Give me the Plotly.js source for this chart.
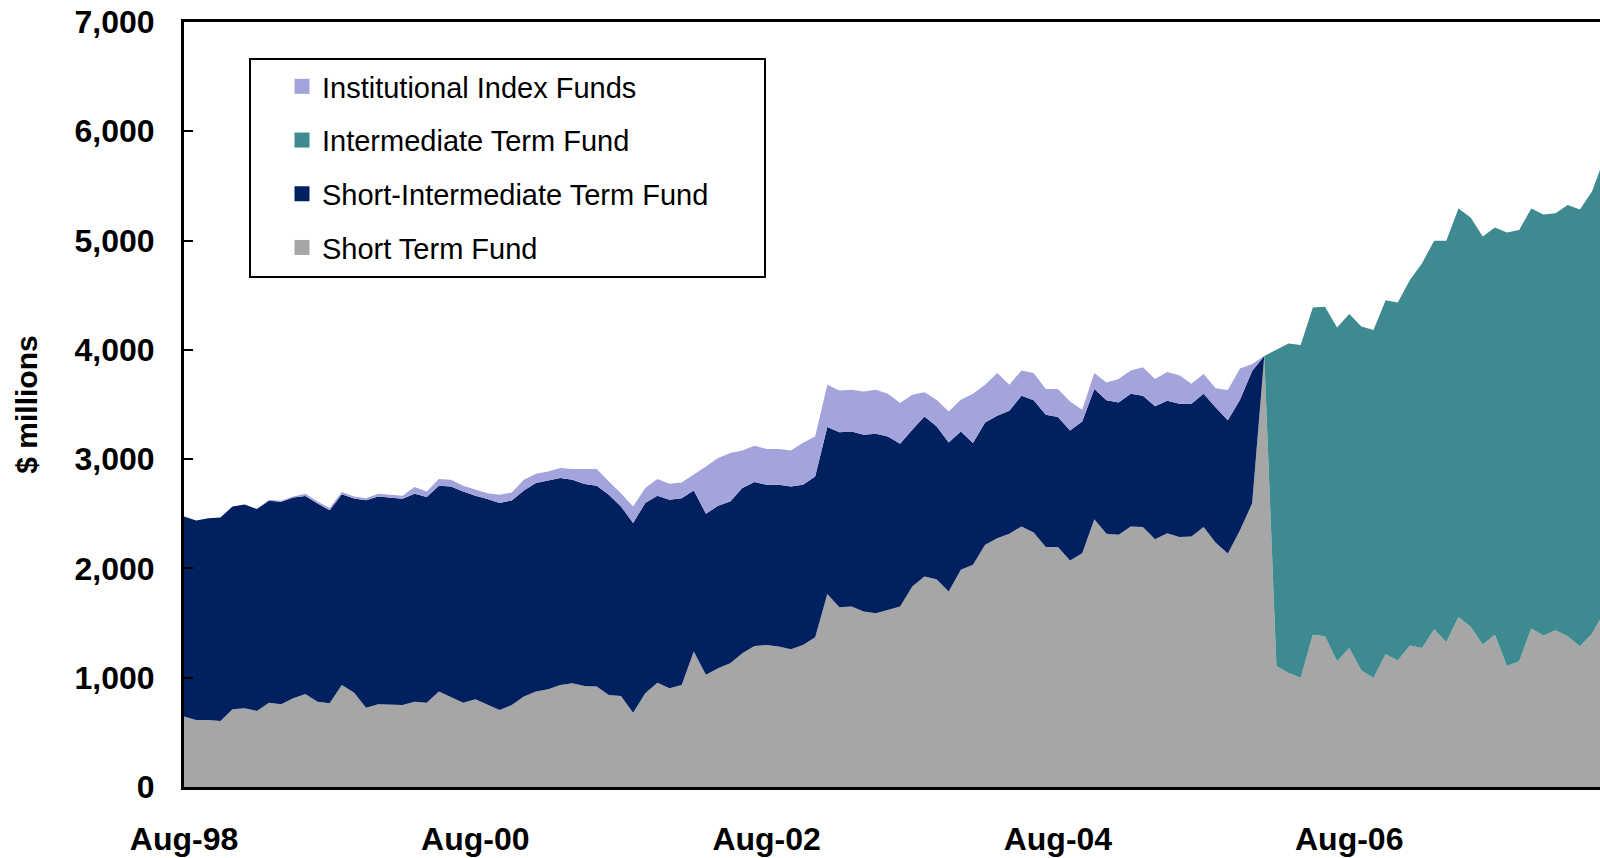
<!DOCTYPE html>
<html>
<head>
<meta charset="utf-8">
<script src="https://cdn.plot.ly/plotly-3.0.1.min.js"></script>
<style>
  html, body { margin: 0; padding: 0; background: #ffffff; }
  #chart { width: 1600px; height: 858px; }
</style>
</head>
<body>
<div id="chart"></div>
<script>
// Monthly categories, Aug-98 .. May-08
const months = [
  "Aug-98","Sep-98","Oct-98","Nov-98","Dec-98",
  "Jan-99","Feb-99","Mar-99","Apr-99","May-99","Jun-99","Jul-99","Aug-99","Sep-99","Oct-99","Nov-99","Dec-99",
  "Jan-00","Feb-00","Mar-00","Apr-00","May-00","Jun-00","Jul-00","Aug-00","Sep-00","Oct-00","Nov-00","Dec-00",
  "Jan-01","Feb-01","Mar-01","Apr-01","May-01","Jun-01","Jul-01","Aug-01","Sep-01","Oct-01","Nov-01","Dec-01",
  "Jan-02","Feb-02","Mar-02","Apr-02","May-02","Jun-02","Jul-02","Aug-02","Sep-02","Oct-02","Nov-02","Dec-02",
  "Jan-03","Feb-03","Mar-03","Apr-03","May-03","Jun-03","Jul-03","Aug-03","Sep-03","Oct-03","Nov-03","Dec-03",
  "Jan-04","Feb-04","Mar-04","Apr-04","May-04","Jun-04","Jul-04","Aug-04","Sep-04","Oct-04","Nov-04","Dec-04",
  "Jan-05","Feb-05","Mar-05","Apr-05","May-05","Jun-05","Jul-05","Aug-05","Sep-05","Oct-05","Nov-05","Dec-05",
  "Jan-06","Feb-06","Mar-06","Apr-06","May-06","Jun-06","Jul-06","Aug-06","Sep-06","Oct-06","Nov-06","Dec-06",
  "Jan-07","Feb-07","Mar-07","Apr-07","May-07","Jun-07","Jul-07","Aug-07","Sep-07","Oct-07","Nov-07","Dec-07",
  "Jan-08","Feb-08","Mar-08","Apr-08","May-08"
];

const tickLabels = ["Aug-98","Aug-00","Aug-02","Aug-04","Aug-06"];

// $ millions
const shortTerm = [
  644,613,613,604,711,720,696,772,757,812,
  852,781,766,934,864,726,757,757,751,781,
  772,873,821,772,803,751,705,751,827,873,
  895,934,950,925,919,842,833,680,858,955,
  904,934,1239,1026,1087,1133,1224,1291,1300,1285,
  1261,1300,1371,1767,1645,1651,1605,1590,1621,1651,
  1834,1926,1902,1789,1987,2033,2216,2277,2317,2384,
  2329,2195,2195,2072,2140,2451,2317,2308,2384,2378,
  2268,2323,2287,2292,2378,2235,2137,2350,2595,3943,
  1107,1042,999,1392,1379,1150,1271,1065,999,1215,
  1157,1294,1271,1444,1327,1556,1467,1304,1392,1107,
  1150,1451,1386,1434,1379,1288,1402,1600
];

const shortIntermediate = [
  1831,1826,1847,1862,1856,1865,1847,1848,1854,1838,
  1811,1812,1766,1745,1775,1897,1901,1888,1887,1902,
  1881,1883,1929,1932,1862,1884,1893,1871,1887,1908,
  1907,1893,1861,1847,1837,1832,1734,1735,1740,1710,
  1724,1709,1475,1474,1486,1480,1511,1499,1466,1481,
  1489,1465,1471,1527,1600,1603,1618,1643,1587,1490,
  1435,1465,1398,1364,1267,1114,1120,1120,1126,1197,
  1209,1212,1190,1191,1205,1191,1221,1211,1215,1203,
  1215,1212,1220,1215,1221,1237,1220,1194,1211,0,
  0,0,0,0,0,0,0,0,0,0,
  0,0,0,0,0,0,0,0,0,0,
  0,0,0,0,0,0,0,0
];

const intermediate = [
  0,0,0,0,0,0,0,0,0,0,
  0,0,0,0,0,0,0,0,0,0,
  0,0,0,0,0,0,0,0,0,0,
  0,0,0,0,0,0,0,0,0,0,
  0,0,0,0,0,0,0,0,0,0,
  0,0,0,0,0,0,0,0,0,0,
  0,0,0,0,0,0,0,0,0,0,
  0,0,0,0,0,0,0,0,0,0,
  0,0,0,0,0,0,0,0,0,0,
  2895,3016,3045,2995,3015,3054,3058,3149,3182,3238,
  3276,3345,3522,3555,3672,3738,3744,3734,3728,3967,
  3947,3843,3852,3817,3947,3996,4046,4150
];

const indexFunds = [
  0,0,0,0,0,0,0,8,8,8,
  20,20,20,20,20,20,25,26,27,61,
  51,62,61,52,55,54,76,73,97,85,
  86,91,98,140,153,122,122,152,137,153,
  147,144,143,433,437,443,345,333,326,326,
  330,385,366,387,384,381,397,402,391,373,
  321,220,244,284,290,452,345,391,238,231,
  250,235,257,265,107,146,164,214,213,259,
  250,262,260,184,180,176,275,285,65,0,
  0,0,0,0,0,0,0,0,0,0,
  0,0,0,0,0,0,0,0,0,0,
  0,0,0,0,0,0,0,0
];

const seriesNames = ["Short Term Fund","Short-Intermediate Term Fund","Intermediate Term Fund","Institutional Index Funds"];
const seriesColors = ["#A6A6A6","#00205F","#3D8B90","#A4A4DC"];
const seriesValues = [shortTerm, shortIntermediate, intermediate, indexFunds];

const FONT = "Liberation Sans, Arial, Helvetica, sans-serif";

const traces = [];
seriesValues.forEach((vals, i) => {
  traces.push({
    type: "scatter",
    mode: "lines",
    x: months,
    y: vals,
    name: seriesNames[i],
    stackgroup: "funds",
    line: { width: 0, color: seriesColors[i] },
    fillcolor: seriesColors[i],
    showlegend: false,
    hoverinfo: "x+y+name"
  });
});

// legend entries (square swatches), in the reference legend order
const legendOrder = [3, 2, 1, 0];
legendOrder.forEach((i, k) => {
  traces.push({
    type: "scatter",
    mode: "markers",
    x: [null],
    y: [null],
    name: seriesNames[i],
    legendgroup: "g" + k,
    marker: { symbol: "square", size: 15, color: seriesColors[i] },
    showlegend: true,
    hoverinfo: "skip"
  });
});

const plotL = 184, plotR = 1600, plotT = 22, plotB = 787;
const pw = plotR - plotL, ph = plotB - plotT;
function px(x) { return (x - plotL) / pw; }
function py(y) { return (plotB - y) / ph; }

const layout = {
  width: 1600,
  height: 858,
  margin: { l: plotL, r: 1600 - plotR, t: plotT, b: 858 - plotB, pad: 0 },
  paper_bgcolor: "#ffffff",
  plot_bgcolor: "#ffffff",
  font: { family: FONT, color: "#000000" },
  showlegend: true,
  xaxis: {
    type: "category",
    range: [0, 116.66],
    tickmode: "array",
    tickvals: tickLabels,
    ticktext: tickLabels,
    ticks: "",
    showgrid: false,
    zeroline: false,
    showline: true,
    linecolor: "#000000",
    linewidth: 3,
    mirror: true,
    tickfont: { family: FONT, size: 32, weight: "bold", color: "#000000" },
    ticklabelstandoff: 22,
    automargin: false
  },
  yaxis: {
    range: [0, 7000],
    tickmode: "array",
    tickvals: [0,1000,2000,3000,4000,5000,6000,7000],
    tickformat: ",d",
    ticks: "inside",
    ticklen: 9,
    tickwidth: 2,
    tickcolor: "#000000",
    showgrid: false,
    zeroline: false,
    showline: true,
    linecolor: "#000000",
    linewidth: 3,
    tickfont: { family: FONT, size: 32, weight: "bold", color: "#000000" },
    ticklabelstandoff: 20,
    title: { text: "$ millions", font: { family: FONT, size: 30, weight: "bold", color: "#000000" }, standoff: 29 },
    automargin: false
  },
  legend: {
    x: px(282),
    y: py(61),
    xanchor: "left",
    yanchor: "top",
    bgcolor: "rgba(0,0,0,0)",
    borderwidth: 0,
    font: { family: FONT, size: 29, color: "#000000" },
    traceorder: "grouped",
    tracegroupgap: 13
  },
  shapes: [
    {
      type: "rect", xref: "paper", yref: "paper",
      x0: px(250), x1: px(765), y0: py(277), y1: py(59),
      line: { color: "#000000", width: 2 },
      fillcolor: "rgba(0,0,0,0)"
    }
  ]
};

Plotly.newPlot("chart", traces, layout, { displayModeBar: false, staticPlot: true });
</script>
</body>
</html>
